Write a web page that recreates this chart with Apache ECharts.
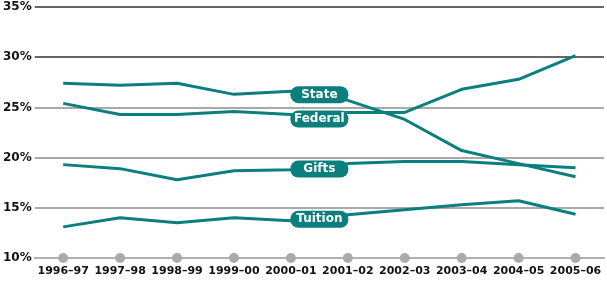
<!DOCTYPE html>
<html>
<head>
<meta charset="utf-8">
<script src="https://cdn.jsdelivr.net/npm/echarts@6/dist/echarts.min.js"></script>
<style>
html,body{margin:0;padding:0;background:#fff;}
#chart{width:607px;height:282px;}
</style>
</head>
<body>
<div id="chart"></div>
<script>
var years = ['1996–97','1997–98','1998–99','1999–00','2000–01','2001–02','2002–03','2003–04','2004–05','2005–06'];
var state   = [27.4, 27.2, 27.4, 26.3, 26.6, 25.7, 23.8, 20.7, 19.4, 18.1];
var federal = [25.4, 24.3, 24.3, 24.6, 24.3, 24.5, 24.5, 26.8, 27.8, 30.15];
var gifts   = [19.3, 18.9, 17.8, 18.7, 18.8, 19.4, 19.6, 19.6, 19.3, 19.0];
var tuition = [13.1, 14.0, 13.5, 14.0, 13.7, 14.3, 14.8, 15.3, 15.7, 14.35];
var seriesNames = ['State','Federal','Gifts','Tuition'];
// where the name tags sit (x = between 2000-01 and 2001-02)
var tagX = 4.5;
var tagY = [26.27, 23.84, 18.86, 13.85];
var yMin = 10, yMax = 35, yStep = 5;

var teal = '#0a7f7d';
var dom = document.getElementById('chart');
var myChart = echarts.init(dom);

var lineSeries = [state, federal, gifts, tuition].map(function(vals, i){
	return {
		type: 'line',
		name: seriesNames[i],
		data: vals,
		symbol: 'none',
		lineStyle: { color: teal, width: 3 },
		z: 3
	};
});

var option = {
	animation: false,
	grid: { left: 31, right: 3, top: 7, bottom: 24 },
	xAxis: [
		{
			type: 'category',
			data: years,
			boundaryGap: true,
			axisLine: { show: true, lineStyle: { color: '#b0b0b0', width: 2 } },
			axisTick: { show: false },
			axisLabel: {
				interval: 0,
				margin: 8,
				color: '#111',
				fontFamily: 'DejaVu Sans',
				fontWeight: 'bold',
				fontSize: 11
			},
			splitLine: { show: false }
		},
		{
			type: 'value',
			min: -0.5,
			max: 9.5,
			show: false
		}
	],
	yAxis: {
		type: 'value',
		min: yMin,
		max: yMax,
		interval: yStep,
		axisLine: { show: false },
		axisTick: { show: false },
		axisLabel: {
			margin: 3,
			color: '#111',
			fontFamily: 'DejaVu Sans',
			fontWeight: 'bold',
			fontSize: 12,
			formatter: '{value}%'
		},
		splitLine: {
			lineStyle: {
				color: ['#b0b0b0', '#8c8c8c', '#8c8c8c', '#8c8c8c', '#333', '#333'],
				width: 1.6
			}
		}
	},
	series: lineSeries.concat([
		{
			type: 'scatter',
			xAxisIndex: 0,
			data: years.map(function(y){ return [y, yMin]; }),
			symbol: 'circle',
			symbolSize: 10,
			clip: false,
			itemStyle: { color: '#aaaaaa', opacity: 1 },
			z: 4
		},
		{
			type: 'scatter',
			xAxisIndex: 1,
			data: seriesNames.map(function(n, i){ return { name: n, value: [tagX, tagY[i]] }; }),
			symbolSize: 0,
			z: 10,
			itemStyle: { opacity: 1 },
			label: {
				show: true,
				position: 'inside',
				formatter: '{b}',
				color: '#fff',
				opacity: 1,
				fontFamily: 'DejaVu Sans',
				fontWeight: 'bold',
				fontSize: 12,
				backgroundColor: teal,
				borderRadius: 8,
				width: 58,
				height: 17,
				lineHeight: 17,
				align: 'center',
				verticalAlign: 'middle'
			}
		}
	])
};
myChart.setOption(option);
</script>
</body>
</html>
